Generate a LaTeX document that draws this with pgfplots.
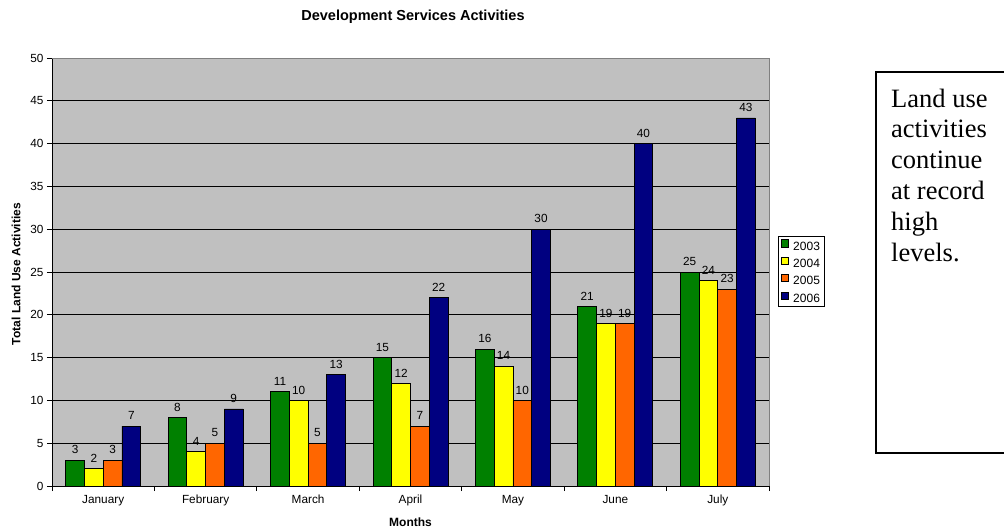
\documentclass[border=0pt]{standalone}
\usepackage{pgfplots}
\pgfplotsset{compat=1.18}
\usepackage{fontspec}
\setmainfont{Liberation Sans}
\newfontfamily\timesfont{Liberation Serif}
\definecolor{c2003}{HTML}{008000}
\definecolor{c2004}{HTML}{FFFF00}
\definecolor{c2005}{HTML}{FF6600}
\definecolor{c2006}{HTML}{000080}
\definecolor{plotbg}{HTML}{C0C0C0}
\definecolor{bordergray}{HTML}{808080}
\begin{document}
\begin{tikzpicture}
\path[use as bounding box] (0,0) rectangle (1004bp,-531bp);
\begin{axis}[
  at={(52bp,-486bp)}, anchor=south west,
  scale only axis, width=717bp, height=428bp,
  xmin=-0.5, xmax=6.5, ymin=0, ymax=50,
  enlargelimits=false, clip=false,
  ybar=0pt, bar width=0.183,
  axis lines=left, axis line style={-, black, line width=1bp},
  axis background/.style={fill=plotbg},
  ymajorgrids, grid style={black, line width=0.8bp},
  ytick={0,5,...,50},
  xtick={-0.5,0.5,...,6.5},
  x tick label as interval,
  xticklabels={January,February,March,April,May,June,July},
  tick align=outside,
  major tick length=5bp,
  tick style={black, line width=0.8bp},
  every tick label/.append style={font=\fontsize{11.8bp}{14bp}\selectfont, black},
  xticklabel style={text height=9bp, text depth=2.5bp},
  /pgf/number format/assume math mode=true,
  title={\bfseries Development Services Activities},
  title style={at={(axis description cs:0.5035,1)}, anchor=base, yshift=32bp, font=\fontsize{14.5bp}{17bp}\selectfont},
  xlabel={\bfseries Months},
  xlabel style={at={(axis description cs:0.5,0)}, anchor=base, yshift=-40.5bp, font=\fontsize{12bp}{14bp}\selectfont},
  ylabel={\bfseries Total Land Use Activities},
  ylabel style={at={(axis description cs:-0.0502,0.495)}, anchor=center, font=\fontsize{12bp}{14bp}\selectfont},
  nodes near coords,
  every node near coord/.append style={font=\fontsize{11.8bp}{14bp}\selectfont, black, yshift=2.5bp},
  legend style={at={(axis description cs:1.0126,0.584)}, anchor=north west, draw=black, line width=0.8bp, fill=white,
    font=\fontsize{12bp}{14bp}\selectfont, inner sep=3bp, row sep=5.2bp,
    nodes={inner sep=1.5bp, text height=8.6bp, text depth=0bp},
    /tikz/every odd column/.append style={column sep=2.5bp}},
  legend cell align=left,
  legend image code/.code={\draw[#1, draw=black, line width=0.8bp] (1.5bp,-1.2bp) rectangle (8.5bp,6bp);},
  every axis plot/.append style={draw=black, line width=0.8bp},
]
\addplot[fill=c2003] coordinates {(0,3) (1,8) (2,11) (3,15) (4,16) (5,21) (6,25)};
\addlegendentry{2003}
\addplot[fill=c2004] coordinates {(0,2) (1,4) (2,10) (3,12) (4,14) (5,19) (6,24)};
\addlegendentry{2004}
\addplot[fill=c2005] coordinates {(0,3) (1,5) (2,5) (3,7) (4,10) (5,19) (6,23)};
\addlegendentry{2005}
\addplot[fill=c2006] coordinates {(0,7) (1,9) (2,13) (3,22) (4,30) (5,40) (6,43)};
\addlegendentry{2006}
\draw[bordergray, line width=1bp] (rel axis cs:0,1) -- (rel axis cs:1,1) -- (rel axis cs:1,0);
\end{axis}
\draw[black, line width=1.2bp] (876bp,-72bp) rectangle (1012bp,-453bp);
\begin{scope}[every node/.style={anchor=base west, inner sep=0pt, font=\timesfont\fontsize{26.5bp}{30bp}\selectfont}]
\node at (891bp,-107bp) {Land use};
\node at (891bp,-137.8bp) {activities};
\node at (891bp,-168.6bp) {continue};
\node at (891bp,-199.4bp) {at record};
\node at (891bp,-230.2bp) {high};
\node at (891bp,-261bp) {levels.};
\end{scope}
\end{tikzpicture}
\end{document}
